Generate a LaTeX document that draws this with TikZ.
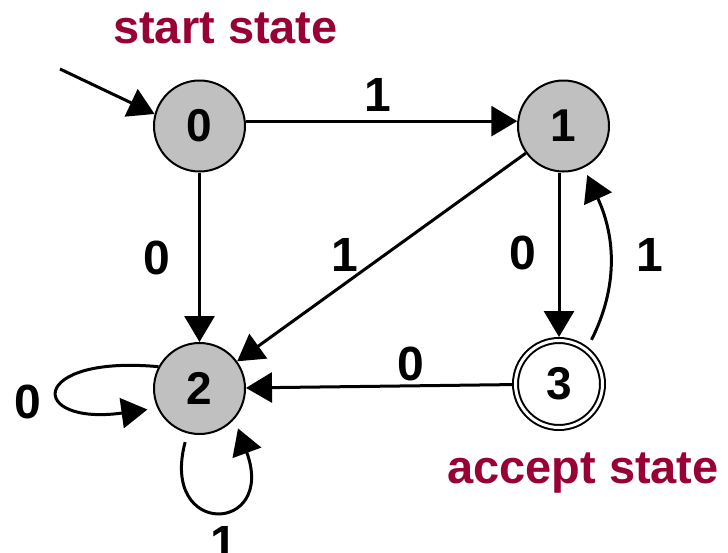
\documentclass[tikz,border=0pt]{standalone}
\usepackage{fontspec}
\setmainfont{Liberation Sans}
\usetikzlibrary{arrows.meta}
\definecolor{statered}{HTML}{990033}
\definecolor{stategray}{HTML}{C0C0C0}
\begin{document}
\begin{tikzpicture}[x=1pt,y=-1pt,
  state/.style={circle,draw=black,line width=2pt,fill=stategray,minimum size=91pt,
    inner sep=0pt,font=\fontsize{46}{46}\selectfont\bfseries},
  accepting/.style={circle,draw=black,line width=2pt,double=white,double distance=3pt,
    minimum size=87pt,inner sep=0pt,outer sep=3.5pt,font=\fontsize{46}{46}\selectfont\bfseries},
  trans/.style={line width=3pt,-{Triangle[length=26pt,width=30pt]}},
  sym/.style={font=\fontsize{48}{48}\selectfont\bfseries,inner sep=0pt},
  caption/.style={text=statered,font=\fontsize{47}{47}\selectfont\bfseries,anchor=base,inner sep=0pt}]
\useasboundingbox (0,0) rectangle (728,552);

% states
\node[state] (n0) at (199.5,126) {0};
\node[state] (n1) at (563.5,126) {1};
\node[state] (n2) at (199.5,388.5) {2};
\node[accepting] (n3) at (559,384) {3};

% captions
\node[caption] (startcap) at (225.5,43) {start state};
\node[caption] (acceptcap) at (583,483) {accept state};

% initial arrow
\coordinate (s0) at (60,69);
\draw[trans] (s0) -- (n0.165);

% transitions
\draw[trans] (n0.6) -- (n1.174);
\draw[trans] (n0) -- (n2);
\draw[trans] (n1) -- (n2);
\draw[trans] (n1.south -| n3) -- (n3);
\draw[trans] (n3) -- (n2);
\draw[trans,shorten <=8pt,shorten >=8pt] (n3.52) .. controls +(30,-60) and +(32,70) .. (n1.-64);
\draw[trans,shorten >=10pt] (n2.152) .. controls +(-131,-12) and +(-130,18) .. (n2.205);
\draw[trans,shorten <=9pt,shorten >=10pt] (n2.255) .. controls +(-28,105) and +(42,115) .. (n2.319);

% input symbols
\node[sym] (l01) at (378,95) {1};
\node[sym] (l02) at (157,258) {0};
\node[sym] (l12) at (345,255) {1};
\node[sym] (l13) at (523,253) {0};
\node[sym] (l31) at (650,255) {1};
\node[sym] (l32) at (411,364) {0};
\node[sym] (l22a) at (28,402) {0};
\node[sym] (l22b) at (224,543) {1};
\end{tikzpicture}
\end{document}
